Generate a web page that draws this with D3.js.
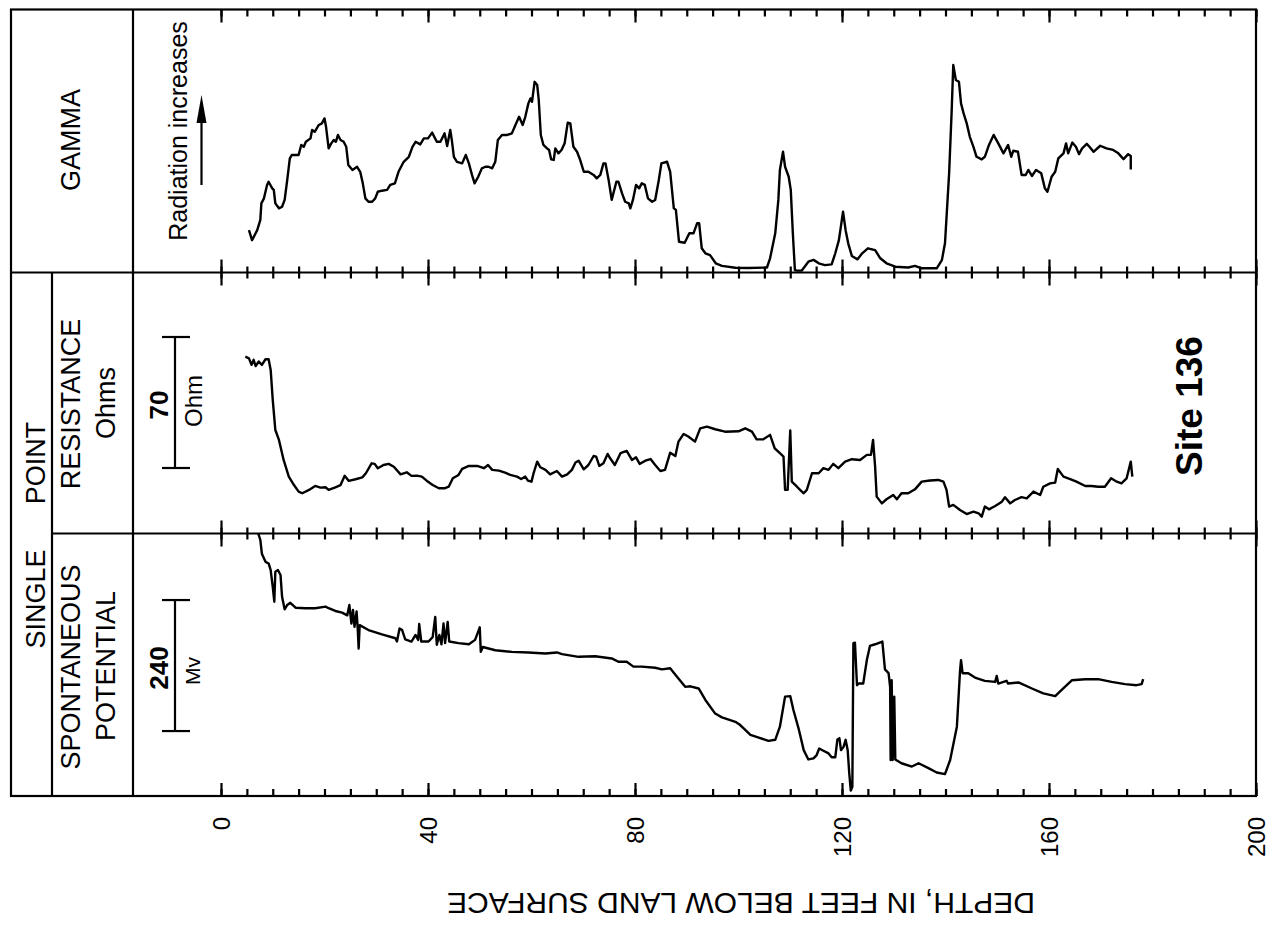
<!DOCTYPE html>
<html>
<head>
<meta charset="utf-8">
<script src="https://cdn.jsdelivr.net/npm/d3@7/dist/d3.min.js"></script>
<style>
  body { margin: 0; background: #fff; }
  svg { display: block; font-family: "Liberation Sans", Arial, sans-serif; }
</style>
</head>
<body>
<div id="log"></div>
<script>
// ---- data: [depth (ft), value] ----
// gamma, relative units (0 = panel bottom, 100 = panel top)
const gammaLog = [
  [5.4,16.1],[6.0,12.3],[7.0,16.1],[7.6,20.0],[7.8,26.3],[8.3,28.2],[8.9,33.3],[9.2,34.5],[9.9,32.0],[10.2,31.4],
  [10.5,26.3],[11.2,24.4],[11.8,25.0],[12.3,27.6],[12.8,35.2],[13.3,43.4],[13.7,44.7],[15.0,44.7],[15.5,48.5],[16.0,47.8],
  [16.4,49.7],[17.3,51.0],[17.6,54.2],[18.1,53.5],[18.9,56.1],[19.5,56.7],[20.0,58.6],[20.3,55.4],[20.8,47.2],[21.3,49.1],
  [21.8,50.4],[22.2,49.7],[22.6,52.3],[23.1,50.4],[23.7,49.7],[24.2,47.8],[24.6,40.9],[25.4,39.0],[26.3,40.2],[26.9,38.3],
  [27.4,33.9],[27.9,28.2],[28.5,26.9],[29.2,26.9],[29.8,28.2],[30.3,30.7],[31.1,31.1],[32.1,31.4],[32.7,33.3],[33.6,33.9],
  [34.3,38.3],[35.3,42.1],[36.3,44.0],[37.0,47.8],[37.6,49.7],[38.5,48.7],[39.2,51.0],[40.0,51.0],[40.8,53.2],[41.7,49.7],
  [42.4,49.7],[43.2,52.9],[43.7,48.1],[44.3,54.2],[44.6,50.4],[45.0,44.0],[45.6,42.1],[46.6,41.5],[47.3,44.7],[47.9,41.5],
  [48.5,37.1],[49.0,33.9],[49.7,36.4],[50.4,39.6],[51.1,40.2],[51.7,40.2],[52.4,39.6],[53.0,42.1],[53.5,50.4],[54.3,52.3],
  [55.3,52.3],[56.2,52.9],[56.9,56.1],[57.6,59.2],[58.3,56.1],[58.8,59.2],[59.4,64.3],[59.8,66.2],[60.1,64.9],[60.6,72.5],
  [61.1,71.3],[61.4,65.6],[61.8,52.3],[62.3,48.5],[63.0,47.2],[63.4,46.6],[63.8,43.0],[64.3,42.8],[64.6,47.2],[65.2,45.3],
  [65.8,46.6],[66.4,49.1],[67.0,57.0],[67.5,56.7],[68.1,47.8],[68.8,45.9],[69.4,42.8],[70.1,38.3],[71.0,38.3],[72.0,37.1],
  [72.6,35.8],[73.3,37.1],[73.9,41.5],[74.3,41.5],[74.9,35.2],[75.5,27.6],[76.4,34.5],[76.8,34.5],[77.5,30.1],[78.1,26.9],
  [78.8,26.3],[79.1,24.4],[79.6,27.6],[80.2,33.3],[80.8,32.0],[81.3,33.9],[81.9,33.3],[82.5,28.2],[83.3,26.9],[83.9,27.6],
  [84.6,35.2],[85.1,41.5],[86.2,42.1],[86.8,38.3],[87.5,24.4],[87.9,23.8],[88.5,11.7],[89.6,11.3],[90.5,14.9],[91.3,14.9],
  [92.0,18.7],[92.4,18.7],[92.9,9.2],[93.6,7.3],[94.5,6.6],[95.6,3.5],[96.8,2.5],[99.4,1.8],[101.9,1.7],[105.5,1.9],
  [106.1,5.4],[107.1,14.9],[107.7,27.6],[108.0,39.0],[108.6,45.9],[109.0,40.2],[109.7,36.4],[110.1,31.4],[110.5,14.9],[110.9,0.9],
  [111.3,0.7],[112.2,0.7],[113.5,4.1],[114.5,4.8],[115.5,3.5],[116.7,2.8],[118.0,3.1],[118.7,7.3],[119.4,12.3],[120.2,23.1],
  [120.7,16.1],[121.2,11.1],[121.9,6.3],[123.0,5.0],[123.9,7.3],[125.0,9.2],[126.4,8.5],[127.4,5.4],[128.6,3.5],[130.3,2.2],
  [132.8,1.9],[134.1,2.5],[135.4,1.6],[138.3,1.6],[139.3,4.7],[139.9,11.1],[140.7,37.7],[141.2,61.8],[141.5,78.9],[142.0,73.2],
  [142.6,72.5],[143.0,64.3],[143.5,60.5],[144.1,56.7],[144.7,51.6],[145.4,47.8],[146.0,44.0],[147.0,43.0],[147.6,44.0],[148.4,48.5],
  [149.3,52.3],[150.2,49.1],[151.2,45.3],[152.1,48.5],[152.7,44.0],[153.1,46.3],[154.0,45.9],[154.7,37.1],[155.5,37.1],[156.0,39.0],
  [156.7,36.7],[157.5,39.0],[158.5,37.7],[159.2,32.0],[159.7,30.7],[160.5,36.4],[161.2,38.3],[161.8,43.4],[162.8,45.3],[163.3,49.1],
  [163.7,45.3],[164.5,49.4],[165.2,47.8],[165.8,45.0],[166.4,47.2],[167.3,48.9],[167.9,47.6],[168.6,45.9],[169.9,48.2],[171.1,47.2],
  [172.4,46.6],[173.4,45.3],[174.4,43.1],[175.3,45.0],[175.8,44.3],[175.8,39.2]
];

// single point resistance, ohms
const resistanceLog = [
  [4.7,94.5],[5.4,93.6],[5.9,90.1],[6.3,92.8],[6.7,89.5],[7.3,91.9],[7.9,90.1],[8.6,93.1],[9.2,93.1],[9.6,87.4],
  [10.0,71.4],[10.5,55.3],[11.2,50.0],[12.1,39.3],[13.1,30.4],[14.1,25.9],[15.0,22.4],[15.7,21.5],[17.0,23.3],[18.2,25.4],
  [19.2,24.5],[20.2,24.7],[20.8,23.3],[22.1,24.7],[23.1,25.9],[23.9,30.8],[24.7,28.1],[26.0,29.0],[27.3,30.0],[28.0,32.2],
  [29.1,37.5],[29.7,37.2],[30.3,34.9],[31.4,36.6],[32.4,37.2],[33.4,35.7],[34.7,31.6],[35.9,32.7],[36.8,30.8],[37.9,30.9],
  [38.8,30.4],[39.8,28.1],[40.9,25.9],[42.1,24.2],[43.3,24.2],[44.0,25.0],[44.8,29.5],[45.9,31.3],[46.6,34.5],[47.9,36.1],
  [49.5,36.1],[50.8,34.9],[51.6,36.6],[52.4,34.0],[53.7,33.6],[54.9,32.5],[55.9,31.3],[57.2,30.4],[58.0,29.1],[58.8,30.4],
  [59.3,28.3],[60.0,27.7],[60.4,32.2],[61.1,38.4],[61.7,35.4],[62.7,34.0],[63.6,31.6],[64.9,33.4],[65.9,30.4],[66.9,31.6],
  [67.8,34.0],[68.5,37.9],[69.1,38.9],[70.1,34.3],[71.0,36.6],[72.0,41.4],[72.5,41.1],[73.1,36.1],[73.9,37.5],[74.7,42.5],
  [75.2,40.2],[76.1,36.6],[77.2,42.9],[78.4,44.1],[79.4,39.3],[80.2,40.7],[80.9,37.2],[82.0,38.9],[83.0,39.8],[83.9,36.6],
  [84.9,33.4],[85.8,34.0],[86.8,43.2],[87.8,41.4],[88.4,49.1],[89.4,53.2],[90.3,51.8],[91.6,49.1],[92.6,56.2],[93.9,57.1],
  [95.5,55.7],[97.4,54.4],[100.0,54.6],[101.3,56.2],[102.6,54.4],[103.5,50.3],[104.8,50.3],[106.1,52.7],[107.0,45.5],[108.0,42.9],
  [108.7,41.1],[109.0,23.3],[109.5,23.3],[110.0,55.0],[110.3,27.7],[111.3,25.0],[111.9,23.3],[112.6,21.5],[113.2,23.3],[114.2,32.2],
  [115.5,32.2],[116.4,34.9],[117.4,34.0],[118.3,37.2],[119.3,34.9],[120.6,38.4],[121.9,39.7],[123.5,39.3],[124.8,42.0],[125.6,42.0],
  [126.0,50.0],[126.4,35.7],[126.7,19.7],[127.7,16.1],[128.6,18.3],[129.9,20.6],[130.6,18.3],[131.5,21.5],[132.8,21.5],[134.1,23.6],
  [135.4,27.7],[137.0,28.3],[138.6,28.6],[139.6,27.7],[140.2,23.3],[140.7,14.4],[141.5,15.3],[142.8,12.6],[144.1,10.4],[145.4,11.7],
  [146.4,10.8],[147.0,9.0],[147.6,14.4],[148.4,12.9],[149.6,14.7],[150.9,17.0],[151.5,19.4],[152.5,16.1],[153.4,17.9],[154.7,19.4],
  [155.7,18.8],[157.0,22.4],[158.3,20.6],[158.9,25.0],[160.2,26.8],[161.2,27.2],[161.7,34.5],[162.8,30.4],[164.1,29.1],[165.3,27.7],
  [167.0,25.4],[168.2,25.4],[169.5,25.0],[170.8,25.0],[172.0,29.5],[173.1,27.7],[174.0,26.8],[175.0,29.5],[175.8,38.4],[176.1,30.4]
];

// spontaneous potential, millivolts (relative)
const spLog = [
  [7.2,481],[7.6,469],[7.9,444],[8.6,429],[9.2,426],[9.6,414],[10.0,383],[10.3,356],[10.5,411],[11.0,414],
  [11.5,405],[11.8,365],[12.3,342],[12.8,350],[13.4,354],[14.4,345],[16.3,344],[18.2,344],[20.2,347],[20.8,344],
  [22.1,339],[23.4,336],[24.4,331],[24.8,350],[25.2,316],[25.5,341],[25.8,310],[26.2,338],[26.4,310],[26.6,270],
  [26.8,313],[28.5,304],[31.1,296],[33.7,289],[34.0,283],[34.5,307],[35.0,304],[35.6,287],[36.8,283],[37.6,295],
  [38.1,286],[38.3,315],[38.7,283],[40.1,283],[40.9,291],[41.4,328],[41.7,277],[42.2,295],[42.6,278],[43.0,316],
  [43.3,280],[43.8,319],[44.1,283],[45.9,280],[47.9,278],[49.1,286],[50.0,309],[50.2,264],[50.6,273],[53.0,267],
  [56.2,264],[59.4,263],[62.7,261],[64.9,263],[65.9,260],[69.1,255],[72.3,256],[75.5,252],[76.8,246],[78.4,246],
  [79.7,237],[81.3,237],[83.9,235],[85.2,232],[86.8,234],[87.8,222],[89.7,200],[90.7,201],[92.3,197],[93.6,176],
  [95.5,151],[96.8,144],[99.4,136],[100.2,131],[101.0,124],[102.3,112],[103.9,107],[105.8,101],[107.1,103],[108.0,127],
  [109.0,182],[110.0,183],[110.6,158],[111.6,124],[112.6,84],[113.5,67],[114.5,69],[115.1,75],[115.6,87],[116.4,83],
  [117.4,78],[118.0,71],[118.7,71],[119.1,103],[119.5,106],[119.8,84],[120.3,90],[120.7,103],[121.1,84],[121.4,42],
  [121.7,10],[122.0,17],[122.2,280],[122.5,281],[122.9,203],[123.2,206],[124.1,206],[124.8,249],[125.4,275],[126.4,278],
  [127.8,283],[128.3,232],[129.0,225],[129.3,200],[129.4,66],[129.6,212],[129.8,66],[130.1,182],[130.3,67],[131.5,60],
  [133.5,54],[134.8,60],[136.7,51],[138.3,43],[139.9,40],[140.9,66],[142.2,127],[142.8,228],[143.0,249],[143.3,225],
  [144.4,225],[145.7,217],[147.6,211],[149.6,209],[149.9,220],[150.2,206],[151.8,211],[152.1,206],[154.1,208],[156.7,197],
  [158.9,188],[161.2,183],[162.4,194],[164.4,212],[167.0,214],[169.5,214],[172.1,209],[174.7,205],[176.9,203],[177.9,205],
  [178.2,214]
];

const depthLabels = [0, 40, 80, 120, 160, 200];
const depthMinor = d3.range(0, 201, 5);

// ---- layout ----
const W = 1272, H = 930;
const frame = {left: 11, right: 1256, top: 9.5, bottom: 796};
const col1 = 52, col2 = 133;           // header column dividers
const panelTops = [9.5, 272.5, 533.5, 796];
const lw = 2.2;

const svg = d3.select('#log').append('svg')
  .attr('width', W).attr('height', H)
  .style('background', '#fff');

const x = d3.scaleLinear().domain([0, 200]).range([221, 1256]);

// vertical scales, one per panel
const yGamma = d3.scaleLinear().domain([0, 100]).range([panelTops[1], panelTops[0]]);
const yRes = d3.scaleLinear().domain([0, 70]).range([panelTops[2], panelTops[2] - 131]);
const ySp = d3.scaleLinear().domain([0, 240]).range([panelTops[3], panelTops[3] - 131]);

// ---- frame and dividers ----
const g = svg.append('g').attr('stroke', '#000').attr('stroke-width', lw).attr('fill', 'none');
g.append('rect')
  .attr('x', frame.left).attr('y', frame.top)
  .attr('width', frame.right - frame.left).attr('height', frame.bottom - frame.top);
g.append('line').attr('x1', frame.left).attr('x2', frame.right).attr('y1', panelTops[1]).attr('y2', panelTops[1]);
g.append('line').attr('x1', col1).attr('x2', frame.right).attr('y1', panelTops[2]).attr('y2', panelTops[2]);
g.append('line').attr('x1', col2).attr('x2', col2).attr('y1', frame.top).attr('y2', frame.bottom);
g.append('line').attr('x1', col1).attr('x2', col1).attr('y1', panelTops[1]).attr('y2', frame.bottom);

// ---- depth ticks ----
function ticks(axisFn, y, values, size) {
  svg.append('g')
    .attr('transform', `translate(0,${y})`)
    .call(axisFn(x).tickValues(values).tickSize(size).tickFormat(''))
    .call(a => a.select('.domain').remove())
    .call(a => a.selectAll('line').attr('stroke', '#000').attr('stroke-width', lw));
}
ticks(d3.axisBottom, frame.top, depthMinor, 7);
ticks(d3.axisBottom, frame.top, depthLabels, 13);
[panelTops[1], panelTops[2]].forEach(y => {
  ticks(d3.axisBottom, y, depthMinor, 6);
  ticks(d3.axisTop, y, depthMinor, 6);
  ticks(d3.axisBottom, y, depthLabels, 13);
  ticks(d3.axisTop, y, depthLabels, 13);
});
ticks(d3.axisTop, frame.bottom, depthMinor, 7);
ticks(d3.axisTop, frame.bottom, depthLabels, 13);

// tick labels, rotated
svg.append('g').selectAll('text')
  .data(depthLabels)
  .join('text')
    .attr('transform', d => `translate(${x(d) + 8.5},817) rotate(-90)`)
    .attr('text-anchor', 'end')
    .style('font-size', '24px')
    .text(d => d);

// axis title, upside down
svg.append('text')
  .attr('transform', 'translate(741,893) rotate(180)')
  .attr('text-anchor', 'middle')
  .style('font-size', '30px')
  .text('DEPTH, IN FEET BELOW LAND SURFACE');

// ---- curves ----
const curves = [
  {data: gammaLog, y: yGamma},
  {data: resistanceLog, y: yRes},
  {data: spLog, y: ySp}
];
curves.forEach(c => {
  svg.append('path')
    .datum(c.data)
    .attr('fill', 'none')
    .attr('stroke', '#000')
    .attr('stroke-width', 2.4)
    .attr('stroke-linejoin', 'round')
    .attr('d', d3.line().x(d => x(d[0])).y(d => c.y(d[1])));
});

// ---- header labels (rotated) ----
const labels = [
  {t: 'GAMMA', bx: 80, cy: 140, size: 27},
  {t: 'Radiation increases', bx: 187, cy: 131, size: 25},
  {t: 'POINT', bx: 45, cy: 463, size: 27},
  {t: 'RESISTANCE', bx: 80, cy: 404, size: 27},
  {t: 'Ohms', bx: 115, cy: 403, size: 27},
  {t: 'SINGLE', bx: 45, cy: 599, size: 27},
  {t: 'SPONTANEOUS', bx: 80, cy: 667, size: 27},
  {t: 'POTENTIAL', bx: 115, cy: 666, size: 27},
  {t: '70', bx: 168, cy: 405, size: 26, bold: true},
  {t: 'Ohm', bx: 202, cy: 401, size: 24},
  {t: '240', bx: 168, cy: 668, size: 26, bold: true},
  {t: 'Mv', bx: 200, cy: 671, size: 21},
  {t: 'Site 136', bx: 1202, cy: 406, size: 37, bold: true}
];
svg.append('g').selectAll('text')
  .data(labels)
  .join('text')
    .attr('transform', d => `translate(${d.bx},${d.cy}) rotate(-90)`)
    .attr('text-anchor', 'middle')
    .style('font-size', d => d.size + 'px')
    .style('font-weight', d => d.bold ? 'bold' : 'normal')
    .text(d => d.t);

// radiation arrow
svg.append('line')
  .attr('x1', 201.5).attr('x2', 201.5).attr('y1', 185).attr('y2', 118)
  .attr('stroke', '#000').attr('stroke-width', lw);
svg.append('path')
  .attr('d', 'M201.5,95 L196.5,123 L206.5,123 Z')
  .attr('fill', '#000');

// scale bars
function scaleBar(yScale, lo, hi) {
  const s = svg.append('g').attr('stroke', '#000').attr('stroke-width', lw);
  s.append('line').attr('x1', 175).attr('x2', 175).attr('y1', yScale(lo)).attr('y2', yScale(hi));
  s.append('line').attr('x1', 162).attr('x2', 190).attr('y1', yScale(lo)).attr('y2', yScale(lo));
  s.append('line').attr('x1', 162).attr('x2', 190).attr('y1', yScale(hi)).attr('y2', yScale(hi));
}
scaleBar(yRes, 35, 105);
scaleBar(ySp, 119, 359);
</script>
</body>
</html>
